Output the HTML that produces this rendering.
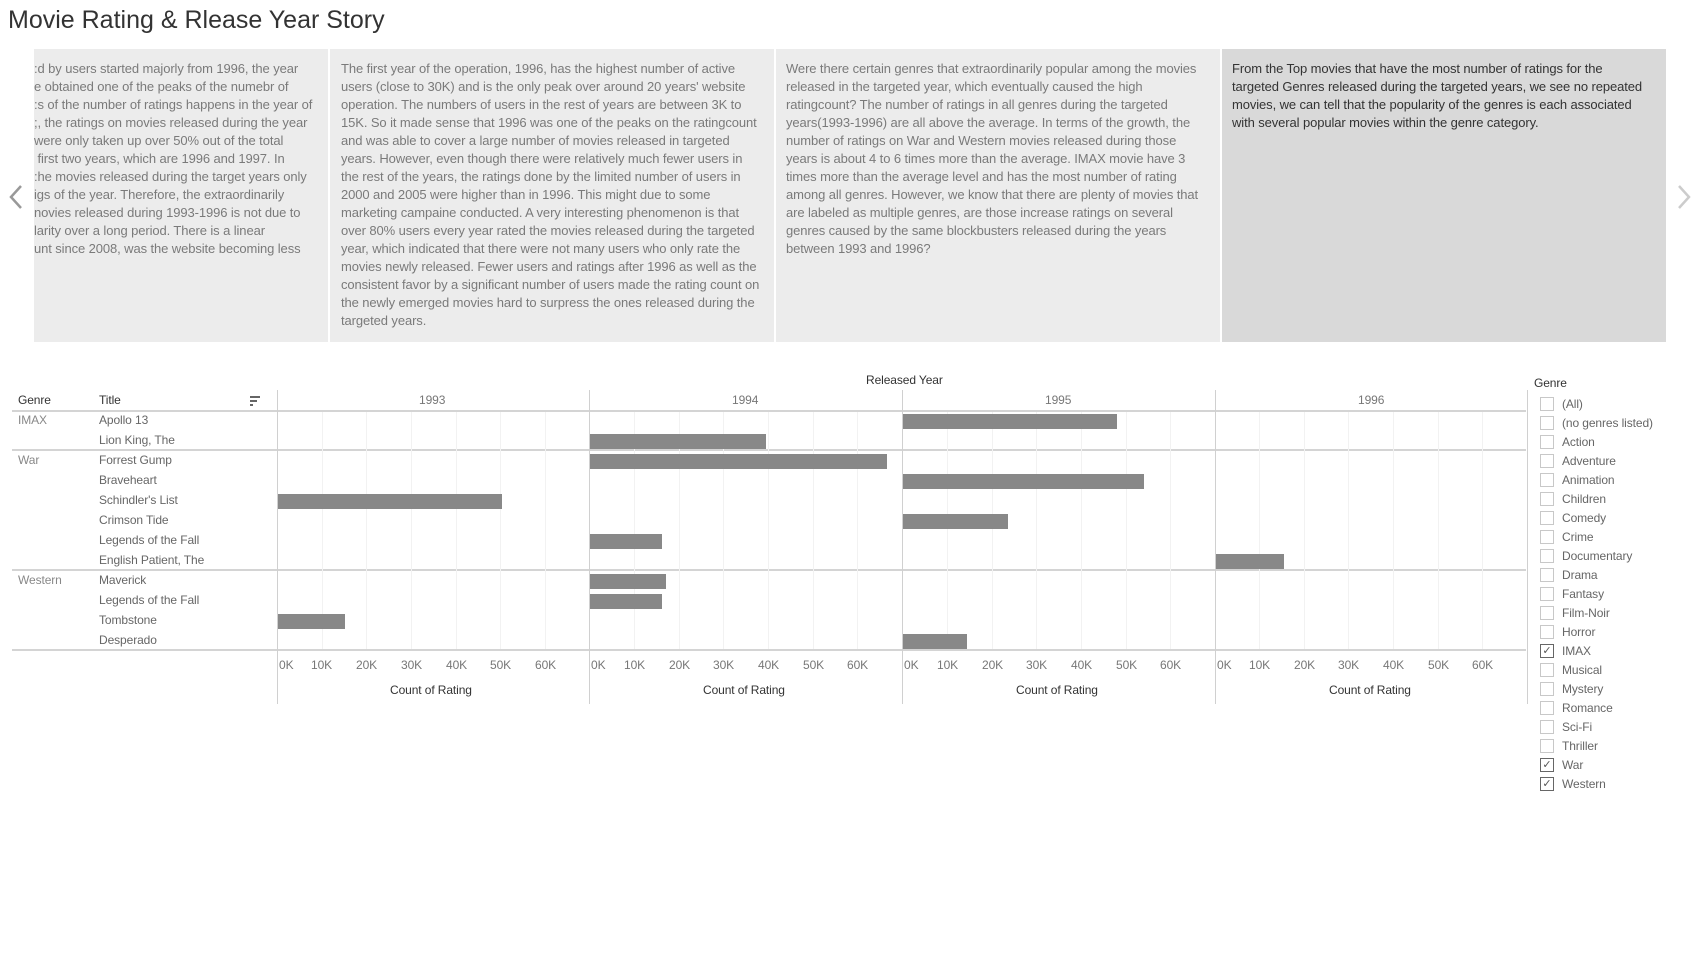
<!DOCTYPE html>
<html><head><meta charset="utf-8">
<style>
*{margin:0;padding:0;box-sizing:border-box}
body{width:1704px;height:976px;background:#fff;position:relative;overflow:hidden;font-family:"Liberation Sans",sans-serif}
.a{position:absolute;white-space:nowrap}
.title{left:8px;top:6px;font-size:25px;color:#333}
.panel{position:absolute;top:49px;height:293px;background:#ececec;overflow:hidden}
.panel .ln{position:absolute;white-space:nowrap;font-size:13px;letter-spacing:-0.1px;color:#7a7a7a;line-height:18px}
.sel{background:#d9d9d9}
.sel .ln{color:#333}
.lbl{font-size:12px;color:#666;letter-spacing:-0.1px}
.hl{position:absolute;height:2px;background:#d4d4d4}
.vl{position:absolute;width:1px;background:#d0d0d0}
.gl{position:absolute;width:1px;background:#f2f2f2}
.bar{position:absolute;height:15px;background:#888}
.cb{position:absolute;width:14px;height:14px;border:1px solid #c8c8c8;background:#fff;font-size:11px;color:#555;line-height:12px;text-align:center}
.cb.on{border-color:#666}
</style></head><body>
<div class="a title">Movie Rating &amp; Rlease Year Story</div>

<svg style="position:absolute;left:8px;top:184px" width="16" height="26"><polyline points="13,2 3,13 13,24" fill="none" stroke="#999" stroke-width="2.5"/></svg>
<svg style="position:absolute;left:1676px;top:184px" width="16" height="26"><polyline points="3,2 13,13 3,24" fill="none" stroke="#ccc" stroke-width="2.5"/></svg>

<div class="panel" style="left:34px;width:294px">
<div class="ln" style="left:0;top:11px">:d by users started majorly from 1996, the year<br>e obtained one of the peaks of the numebr of<br>:s of the number of ratings happens in the year of<br>;, the ratings on movies released during the year<br>were only taken up over 50% out of the total<br>&nbsp;first two years, which are 1996 and 1997. In<br>:he movies released during the target years only<br>igs of the year. Therefore, the extraordinarily<br>novies released during 1993-1996 is not due to<br>larity over a long period. There is a linear<br>unt since 2008, was the website becoming less</div>
</div>
<div class="panel" style="left:330px;width:444px">
<div class="ln" style="left:11px;top:11px">The first year of the operation, 1996, has the highest number of active<br>users (close to 30K) and is the only peak over around 20 years' website<br>operation. The numbers of users in the rest of years are between 3K to<br>15K. So it made sense that 1996 was one of the peaks on the ratingcount<br>and was able to cover a large number of movies released in targeted<br>years. However, even though there were relatively much fewer users in<br>the rest of the years, the ratings done by the limited number of users in<br>2000 and 2005 were higher than in 1996. This might due to some<br>marketing campaine conducted. A very interesting phenomenon is that<br>over 80% users every year rated the movies released during the targeted<br>year, which indicated that there were not many users who only rate the<br>movies newly released. Fewer users and ratings after 1996 as well as the<br>consistent favor by a significant number of users made the rating count on<br>the newly emerged movies hard to surpress the ones released during the<br>targeted years.</div>
</div>
<div class="panel" style="left:776px;width:444px">
<div class="ln" style="left:10px;top:11px">Were there certain genres that extraordinarily popular among the movies<br>released in the targeted year, which eventually caused the high<br>ratingcount? The number of ratings in all genres during the targeted<br>years(1993-1996) are all above the average. In terms of the growth, the<br>number of ratings on War and Western movies released during those<br>years is about 4 to 6 times more than the average. IMAX movie have 3<br>times more than the average level and has the most number of rating<br>among all genres. However, we know that there are plenty of movies that<br>are labeled as multiple genres, are those increase ratings on several<br>genres caused by the same blockbusters released during the years<br>between 1993 and 1996?</div>
</div>
<div class="panel sel" style="left:1222px;width:444px">
<div class="ln" style="left:10px;top:11px">From the Top movies that have the most number of ratings for the<br>targeted Genres released during the targeted years, we see no repeated<br>movies, we can tell that the popularity of the genres is each associated<br>with several popular movies within the genre category.</div>
</div>

<!-- chart -->
<div class="a lbl" style="left:866px;top:373px;color:#333">Released Year</div>
<div class="a lbl" style="left:18px;top:393px;color:#333">Genre</div>
<div class="a lbl" style="left:99px;top:393px;color:#333">Title</div>
<svg style="position:absolute;left:250px;top:395px" width="12" height="12"><rect x="0" y="1" width="10" height="2" fill="#666"/><rect x="0" y="5" width="7" height="2" fill="#666"/><rect x="0" y="9" width="3" height="2" fill="#666"/></svg>
<div class="a lbl" style="left:419px;top:393px;color:#777">1993</div>
<div class="a lbl" style="left:732px;top:393px;color:#777">1994</div>
<div class="a lbl" style="left:1045px;top:393px;color:#777">1995</div>
<div class="a lbl" style="left:1358px;top:393px;color:#777">1996</div>

<div class="hl" style="left:12px;width:1514px;top:410px"></div>
<div class="hl" style="left:12px;width:1514px;top:449px"></div>
<div class="hl" style="left:12px;width:1514px;top:569px"></div>
<div class="hl" style="left:12px;width:1514px;top:649px"></div>

<div class="a lbl" style="left:18px;top:413px;color:#888">IMAX</div>
<div class="a lbl" style="left:18px;top:453px;color:#888">War</div>
<div class="a lbl" style="left:18px;top:573px;color:#888">Western</div>

<div class="a lbl" style="left:99px;top:413px">Apollo 13</div>
<div class="a lbl" style="left:99px;top:433px">Lion King, The</div>
<div class="a lbl" style="left:99px;top:453px">Forrest Gump</div>
<div class="a lbl" style="left:99px;top:473px">Braveheart</div>
<div class="a lbl" style="left:99px;top:493px">Schindler's List</div>
<div class="a lbl" style="left:99px;top:513px">Crimson Tide</div>
<div class="a lbl" style="left:99px;top:533px">Legends of the Fall</div>
<div class="a lbl" style="left:99px;top:553px">English Patient, The</div>
<div class="a lbl" style="left:99px;top:573px">Maverick</div>
<div class="a lbl" style="left:99px;top:593px">Legends of the Fall</div>
<div class="a lbl" style="left:99px;top:613px">Tombstone</div>
<div class="a lbl" style="left:99px;top:633px">Desperado</div>

<!-- gridlines -->
<div class="gl" style="left:322px;top:412px;height:237px"></div><div class="gl" style="left:366px;top:412px;height:237px"></div><div class="gl" style="left:411px;top:412px;height:237px"></div><div class="gl" style="left:456px;top:412px;height:237px"></div><div class="gl" style="left:500px;top:412px;height:237px"></div><div class="gl" style="left:545px;top:412px;height:237px"></div>
<div class="gl" style="left:634px;top:412px;height:237px"></div><div class="gl" style="left:679px;top:412px;height:237px"></div><div class="gl" style="left:723px;top:412px;height:237px"></div><div class="gl" style="left:768px;top:412px;height:237px"></div><div class="gl" style="left:813px;top:412px;height:237px"></div><div class="gl" style="left:857px;top:412px;height:237px"></div>
<div class="gl" style="left:947px;top:412px;height:237px"></div><div class="gl" style="left:992px;top:412px;height:237px"></div><div class="gl" style="left:1036px;top:412px;height:237px"></div><div class="gl" style="left:1081px;top:412px;height:237px"></div><div class="gl" style="left:1126px;top:412px;height:237px"></div><div class="gl" style="left:1170px;top:412px;height:237px"></div>
<div class="gl" style="left:1259px;top:412px;height:237px"></div><div class="gl" style="left:1304px;top:412px;height:237px"></div><div class="gl" style="left:1348px;top:412px;height:237px"></div><div class="gl" style="left:1393px;top:412px;height:237px"></div><div class="gl" style="left:1438px;top:412px;height:237px"></div><div class="gl" style="left:1482px;top:412px;height:237px"></div>

<div class="vl" style="left:277px;top:390px;height:314px"></div>
<div class="vl" style="left:589px;top:390px;height:314px"></div>
<div class="vl" style="left:902px;top:390px;height:314px"></div>
<div class="vl" style="left:1215px;top:390px;height:314px"></div>
<div class="vl" style="left:1527px;top:390px;height:314px"></div>

<!-- bars -->
<div class="bar" style="left:903px;top:414px;width:214px"></div>
<div class="bar" style="left:590px;top:434px;width:176px"></div>
<div class="bar" style="left:590px;top:454px;width:297px"></div>
<div class="bar" style="left:903px;top:474px;width:241px"></div>
<div class="bar" style="left:278px;top:494px;width:224px"></div>
<div class="bar" style="left:903px;top:514px;width:105px"></div>
<div class="bar" style="left:590px;top:534px;width:72px"></div>
<div class="bar" style="left:1216px;top:554px;width:68px"></div>
<div class="bar" style="left:590px;top:574px;width:76px"></div>
<div class="bar" style="left:590px;top:594px;width:72px"></div>
<div class="bar" style="left:278px;top:614px;width:67px"></div>
<div class="bar" style="left:903px;top:634px;width:64px"></div>

<!-- axes -->
<div class="a lbl" style="left:279px;top:658px;color:#777">0K</div>
<div class="a lbl" style="left:311px;top:658px;color:#777">10K</div><div class="a lbl" style="left:356px;top:658px;color:#777">20K</div><div class="a lbl" style="left:401px;top:658px;color:#777">30K</div><div class="a lbl" style="left:446px;top:658px;color:#777">40K</div><div class="a lbl" style="left:490px;top:658px;color:#777">50K</div><div class="a lbl" style="left:535px;top:658px;color:#777">60K</div>
<div class="a lbl" style="left:591px;top:658px;color:#777">0K</div>
<div class="a lbl" style="left:624px;top:658px;color:#777">10K</div><div class="a lbl" style="left:669px;top:658px;color:#777">20K</div><div class="a lbl" style="left:713px;top:658px;color:#777">30K</div><div class="a lbl" style="left:758px;top:658px;color:#777">40K</div><div class="a lbl" style="left:803px;top:658px;color:#777">50K</div><div class="a lbl" style="left:847px;top:658px;color:#777">60K</div>
<div class="a lbl" style="left:904px;top:658px;color:#777">0K</div>
<div class="a lbl" style="left:937px;top:658px;color:#777">10K</div><div class="a lbl" style="left:982px;top:658px;color:#777">20K</div><div class="a lbl" style="left:1026px;top:658px;color:#777">30K</div><div class="a lbl" style="left:1071px;top:658px;color:#777">40K</div><div class="a lbl" style="left:1116px;top:658px;color:#777">50K</div><div class="a lbl" style="left:1160px;top:658px;color:#777">60K</div>
<div class="a lbl" style="left:1217px;top:658px;color:#777">0K</div>
<div class="a lbl" style="left:1249px;top:658px;color:#777">10K</div><div class="a lbl" style="left:1294px;top:658px;color:#777">20K</div><div class="a lbl" style="left:1338px;top:658px;color:#777">30K</div><div class="a lbl" style="left:1383px;top:658px;color:#777">40K</div><div class="a lbl" style="left:1428px;top:658px;color:#777">50K</div><div class="a lbl" style="left:1472px;top:658px;color:#777">60K</div>

<div class="a lbl" style="left:390px;top:683px;color:#333">Count of Rating</div>
<div class="a lbl" style="left:703px;top:683px;color:#333">Count of Rating</div>
<div class="a lbl" style="left:1016px;top:683px;color:#333">Count of Rating</div>
<div class="a lbl" style="left:1329px;top:683px;color:#333">Count of Rating</div>

<!-- legend -->
<div class="a lbl" style="left:1534px;top:376px;color:#333">Genre</div>
<div class="cb" style="left:1540px;top:397px"></div><div class="a lbl" style="left:1562px;top:397px">(All)</div>
<div class="cb" style="left:1540px;top:416px"></div><div class="a lbl" style="left:1562px;top:416px">(no genres listed)</div>
<div class="cb" style="left:1540px;top:435px"></div><div class="a lbl" style="left:1562px;top:435px">Action</div>
<div class="cb" style="left:1540px;top:454px"></div><div class="a lbl" style="left:1562px;top:454px">Adventure</div>
<div class="cb" style="left:1540px;top:473px"></div><div class="a lbl" style="left:1562px;top:473px">Animation</div>
<div class="cb" style="left:1540px;top:492px"></div><div class="a lbl" style="left:1562px;top:492px">Children</div>
<div class="cb" style="left:1540px;top:511px"></div><div class="a lbl" style="left:1562px;top:511px">Comedy</div>
<div class="cb" style="left:1540px;top:530px"></div><div class="a lbl" style="left:1562px;top:530px">Crime</div>
<div class="cb" style="left:1540px;top:549px"></div><div class="a lbl" style="left:1562px;top:549px">Documentary</div>
<div class="cb" style="left:1540px;top:568px"></div><div class="a lbl" style="left:1562px;top:568px">Drama</div>
<div class="cb" style="left:1540px;top:587px"></div><div class="a lbl" style="left:1562px;top:587px">Fantasy</div>
<div class="cb" style="left:1540px;top:606px"></div><div class="a lbl" style="left:1562px;top:606px">Film-Noir</div>
<div class="cb" style="left:1540px;top:625px"></div><div class="a lbl" style="left:1562px;top:625px">Horror</div>
<div class="cb on" style="left:1540px;top:644px">✓</div><div class="a lbl" style="left:1562px;top:644px">IMAX</div>
<div class="cb" style="left:1540px;top:663px"></div><div class="a lbl" style="left:1562px;top:663px">Musical</div>
<div class="cb" style="left:1540px;top:682px"></div><div class="a lbl" style="left:1562px;top:682px">Mystery</div>
<div class="cb" style="left:1540px;top:701px"></div><div class="a lbl" style="left:1562px;top:701px">Romance</div>
<div class="cb" style="left:1540px;top:720px"></div><div class="a lbl" style="left:1562px;top:720px">Sci-Fi</div>
<div class="cb" style="left:1540px;top:739px"></div><div class="a lbl" style="left:1562px;top:739px">Thriller</div>
<div class="cb on" style="left:1540px;top:758px">✓</div><div class="a lbl" style="left:1562px;top:758px">War</div>
<div class="cb on" style="left:1540px;top:777px">✓</div><div class="a lbl" style="left:1562px;top:777px">Western</div>
</body></html>
